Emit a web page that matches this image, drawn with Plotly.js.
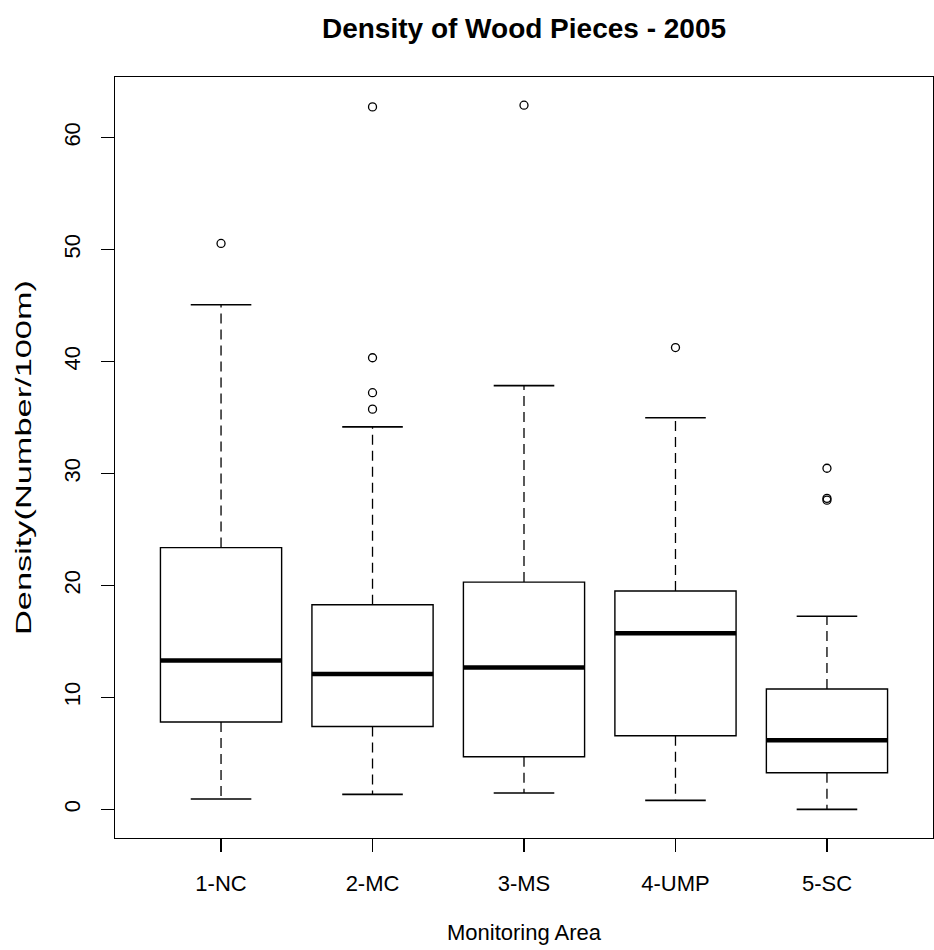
<!DOCTYPE html>
<html>
<head>
<meta charset="utf-8">
<script src="https://cdn.plot.ly/plotly-3.0.1.min.js"></script>
<style>html,body{margin:0;padding:0;background:#fff;}#chart{width:934px;height:950px;}</style>
</head>
<body>
<div id="chart"></div>
<script>
// ---- data ----
var categories   = ['1-NC', '2-MC', '3-MS', '4-UMP', '5-SC'];
var lowerWhisker = [0.93, 1.34, 1.46, 0.80, 0.00];
var q1Values     = [7.80, 7.40, 4.70, 6.57, 3.27];
var medianValues = [13.30, 12.10, 12.66, 15.73, 6.17];
var q3Values     = [23.38, 18.28, 20.30, 19.50, 10.75];
var upperWhisker = [45.07, 34.17, 37.85, 34.98, 17.25];
var outlierGroup  = ['1-NC', '2-MC', '2-MC', '2-MC', '2-MC', '3-MS', '4-UMP', '5-SC', '5-SC', '5-SC'];
var outlierValues = [50.55, 62.75, 40.34, 37.22, 35.75, 62.90, 41.25, 30.47, 27.62, 27.78];
var yTicks = [0, 10, 20, 30, 40, 50, 60];

// ---- build traces ----
var pos = categories.map(function (c, i) { return i + 1; });
var BOXW = 0.8, CAPW = 0.2, MEDW = 0.4;

var boxTrace = {
  type: 'box', x: pos, q1: q1Values, median: medianValues, q3: q3Values,
  lowerfence: q1Values, upperfence: q3Values, width: BOXW,
  line: {color: '#000', width: 1.4}, fillcolor: '#fff',
  boxpoints: false, hoverinfo: 'skip', showlegend: false, whiskerwidth: 0
};

var wx = [], wy = [], cx = [], cy = [], mx = [], my = [];
pos.forEach(function (p, i) {
  wx.push(p, p, null, p, p, null);
  wy.push(q3Values[i], upperWhisker[i], null, q1Values[i], lowerWhisker[i], null);
  cx.push(p - CAPW, p + CAPW, null, p - CAPW, p + CAPW, null);
  cy.push(upperWhisker[i], upperWhisker[i], null, lowerWhisker[i], lowerWhisker[i], null);
  mx.push(p - MEDW, p + MEDW, null);
  my.push(medianValues[i], medianValues[i], null);
});

var whiskerTrace = {type: 'scatter', mode: 'lines', x: wx, y: wy, connectgaps: false,
  line: {color: '#000', width: 1.3, dash: '10px,6px'}, hoverinfo: 'skip', showlegend: false};
var capTrace = {type: 'scatter', mode: 'lines', x: cx, y: cy, connectgaps: false,
  line: {color: '#000', width: 1.6}, hoverinfo: 'skip', showlegend: false};
var medianTrace = {type: 'scatter', mode: 'lines', x: mx, y: my, connectgaps: false,
  line: {color: '#000', width: 4.5}, hoverinfo: 'skip', showlegend: false};
var outlierTrace = {type: 'scatter', mode: 'markers',
  x: outlierGroup.map(function (g) { return categories.indexOf(g) + 1; }), y: outlierValues,
  marker: {symbol: 'circle-open', size: 8, color: '#000', line: {width: 1.3, color: '#000'}},
  hoverinfo: 'skip', showlegend: false};

var FONT = 'Liberation Sans, Arial, Helvetica, sans-serif';
var layout = {
  width: 934, height: 950,
  margin: {l: 115, r: 1, t: 77, b: 112},
  paper_bgcolor: '#fff', plot_bgcolor: '#fff',
  font: {family: FONT, size: 22, color: '#000'},
  title: {text: 'Density of Wood Pieces - 2005', font: {family: FONT, size: 28, weight: 'bold', color: '#000'},
          xref: 'paper', x: 0.5, xanchor: 'center', yref: 'container', y: 1 - 28 / 950, yanchor: 'middle'},
  xaxis: {range: [0.3, 5.7], tickvals: pos, ticktext: categories, ticks: 'outside', ticklen: 13,
          tickwidth: 1.3, tickcolor: '#000', showline: true, linecolor: '#000', linewidth: 1.3, mirror: true,
          showgrid: false, zeroline: false, ticklabelstandoff: 12, automargin: false,
          tickfont: {family: FONT, size: 22, color: '#000'},
          title: {text: 'Monitoring Area', font: {family: FONT, size: 22, color: '#000'}, standoff: 30}},
  yaxis: {range: [-2.56, 65.42], tickvals: yTicks, ticks: 'outside', ticklen: 13, tickangle: -90,
          tickwidth: 1.3, tickcolor: '#000', showline: true, linecolor: '#000', linewidth: 1.3, mirror: true,
          showgrid: false, zeroline: false, ticklabelstandoff: 12, automargin: false,
          tickfont: {family: FONT, size: 22, color: '#000'},
          title: {text: 'Density(Number/100m)', font: {family: FONT, size: 22, color: '#000'}, standoff: 22}},
  showlegend: false
};

Plotly.newPlot('chart', [boxTrace, whiskerTrace, capTrace, medianTrace, outlierTrace], layout,
  {displayModeBar: false, staticPlot: true}).then(function (gd) {
  // the reference's y-axis label is drawn stretched along its length
  var t = gd.querySelector('.ytitle');
  if (t) {
    t.setAttribute('textLength', '355');
    t.setAttribute('lengthAdjust', 'spacingAndGlyphs');
  }
});
</script>
</body>
</html>
